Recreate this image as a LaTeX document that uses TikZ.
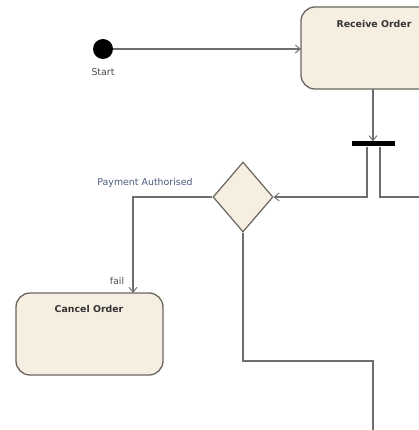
\documentclass[tikz,border=0pt]{standalone}
\usepackage{fontspec}
\setmainfont{DejaVu Sans}
\usetikzlibrary{arrows.meta,shapes.geometric}
\definecolor{actfill}{HTML}{F6EEE0}
\definecolor{actline}{HTML}{6A645E}
\definecolor{flow}{HTML}{6E6E6E}
\definecolor{guardtxt}{HTML}{4A5A7A}
\tikzset{
  action/.style={draw=actline, line width=1.3pt, fill=actfill, rounded corners=14pt},
  acttitle/.style={font=\bfseries\fontsize{9.4}{10}\selectfont, text=black!80},
  flowline/.style={draw=flow, line width=1.2pt},
  flowarrow/.style={flowline, -{Straight Barb[length=5pt,width=8pt,line width=0.9pt]}},
  lbl/.style={font=\fontsize{9.4}{10}\selectfont, text=black!70},
}
\begin{document}
\begin{tikzpicture}[x=1pt,y=-1pt]
\useasboundingbox (0,0) rectangle (419,430);
% initial node
\node[circle, fill=black, minimum size=20pt, inner sep=0pt] (start) at (103,49) {};
\node[lbl] (startlbl) at (103,72) {Start};
% actions
\draw[action] (301,7) rectangle (440,89);
\coordinate (recvW) at (301,49);
\coordinate (recvS) at (373,89);
\node[acttitle] (recvT) at (374,24) {Receive Order};
\draw[action] (16,293) rectangle (163,375);
\coordinate (cancelN) at (133,293);
\node[acttitle] (cancelT) at (89,309) {Cancel Order};
% fork bar
\node[fill=black, minimum width=43pt, minimum height=5pt, inner sep=0pt] (fork) at (373.5,144) {};
% decision
\node[diamond, draw=actline, line width=1.2pt, fill=actfill, minimum width=60pt, minimum height=70pt, inner sep=0pt, aspect=0.857] (dec) at (243,197) {};
% flows
\draw[flowarrow] (start) -- (recvW);
\draw[flowarrow] (recvS) -- (fork.north -| recvS);
\draw[flowarrow] (fork.south -| 367,0) |- (dec.east);
\coordinate (offR) at (425,197);
\draw[flowline] (fork.south -| 380,0) |- (offR);
\draw[flowarrow] (dec.west) -| (cancelN);
\coordinate (offB) at (373,432);
\draw[flowline] (dec.south) |- (373,361) -- (offB);
% guards
\node[lbl, text=guardtxt] (g1) at (145,183) {Payment Authorised};
\node[lbl] (g2) at (117,281) {fail};
\end{tikzpicture}
\end{document}
